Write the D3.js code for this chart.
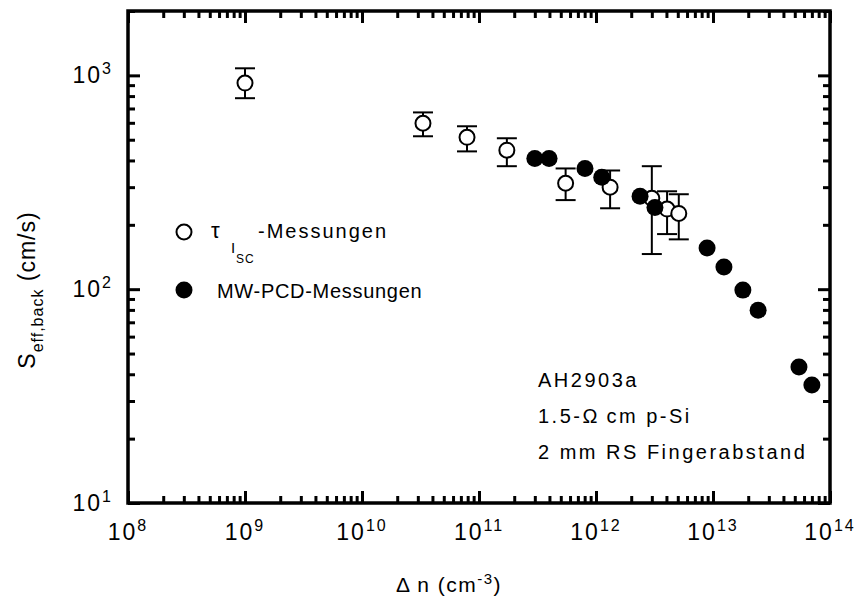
<!DOCTYPE html>
<html>
<head>
<meta charset="utf-8">
<script src="https://cdn.jsdelivr.net/npm/d3@7"></script>
<style>
  html, body { margin: 0; padding: 0; background: #fff; }
  svg { display: block; font-family: "Liberation Sans", Arial, sans-serif; }
</style>
</head>
<body>
<svg id="chart" width="861" height="605"></svg>
<script>
// τ_Isc measurements: injection level, S value, error bar bounds
const iscDn   = [1e9, 3.32e10, 7.9e10, 1.73e11, 5.5e11, 1.32e12, 3.0e12, 4.05e12, 5.1e12];
const iscS    = [920, 597, 513, 447, 313, 300, 266, 237, 226];
const iscLow  = [782, 519, 441, 376, 261, 239, 146, 181, 171];
const iscHigh = [1079, 671, 578, 508, 367, 359, 376, 287, 278];

// MW-PCD measurements
const pcdDn = [3.0e11, 3.97e11, 8.05e11, 1.12e12, 2.38e12, 3.19e12, 8.9e12, 1.24e13, 1.80e13, 2.43e13, 5.43e13, 7.0e13];
const pcdS  = [409, 409, 367, 334, 272, 241, 156, 127, 99, 79.8, 43.3, 35.6];

const xTickExp = [8, 9, 10, 11, 12, 13, 14];
const yTickExp = [1, 2, 3];

const infoLines = ["AH2903a", "1.5-\u03A9\u2009cm p-Si", "2 mm RS Fingerabstand"];

const margin = { left: 128, top: 11, right: 31, bottom: 102 };
const W = 861, H = 605;
const iw = W - margin.left - margin.right;
const ih = H - margin.top - margin.bottom;

const svg = d3.select("#chart");
const g = svg.append("g").attr("transform", `translate(${margin.left},${margin.top})`);

const x = d3.scaleLog().domain([1e8, 1e14]).range([0, iw]);
const y = d3.scaleLog().domain([10, 2000]).range([ih, 0]);

// decade (major) and in-between (minor) tick values
function decadeTicks(scale) {
  const [a, b] = scale.domain();
  const major = [], minor = [];
  for (let e = Math.floor(Math.log10(a)); e <= Math.ceil(Math.log10(b)); e++) {
    for (let m = 1; m < 10; m++) {
      const v = m * Math.pow(10, e);
      if (v < a * 0.999 || v > b * 1.001) continue;
      (m === 1 ? major : minor).push(v);
    }
  }
  return { major, minor };
}

const tickW = 3;
const xt = decadeTicks(x), yt = decadeTicks(y);

function drawAxis(axisFn, scale, vals, len, transform) {
  const a = axisFn(scale).tickValues(vals).tickSize(len).tickFormat("");
  const sel = g.append("g").attr("transform", transform).call(a);
  sel.select(".domain").remove();
  sel.selectAll(".tick line").attr("stroke", "#000").attr("stroke-width", tickW);
}

// ticks on all four sides, pointing inward
drawAxis(d3.axisTop, x, xt.major, 12, `translate(0,${ih})`);
drawAxis(d3.axisTop, x, xt.minor, 7, `translate(0,${ih})`);
drawAxis(d3.axisBottom, x, xt.major, 12, `translate(0,0)`);
drawAxis(d3.axisBottom, x, xt.minor, 7, `translate(0,0)`);
drawAxis(d3.axisRight, y, yt.major, 12, `translate(0,0)`);
drawAxis(d3.axisRight, y, yt.minor, 7, `translate(0,0)`);
drawAxis(d3.axisLeft, y, yt.major, 12, `translate(${iw},0)`);
drawAxis(d3.axisLeft, y, yt.minor, 7, `translate(${iw},0)`);

// frame
g.append("rect").attr("x", 0).attr("y", 0).attr("width", iw).attr("height", ih)
  .attr("fill", "none").attr("stroke", "#000").attr("stroke-width", 3.5);

// tick labels
const tickFont = 23;
g.selectAll("text.xtl").data(xTickExp).enter().append("text")
  .attr("class", "xtl")
  .attr("x", d => x(Math.pow(10, d)))
  .attr("y", ih + 37)
  .attr("text-anchor", "middle")
  .attr("font-size", tickFont)
  .attr("letter-spacing", 2)
  .each(function (d) {
    const t = d3.select(this);
    t.append("tspan").text("10");
    t.append("tspan").attr("dy", -9).attr("font-size", 16).text(d);
  });

g.selectAll("text.ytl").data(yTickExp).enter().append("text")
  .attr("class", "ytl")
  .attr("x", -15)
  .attr("y", d => y(Math.pow(10, d)) + 8)
  .attr("text-anchor", "end")
  .attr("font-size", tickFont)
  .attr("letter-spacing", 2)
  .each(function (d) {
    const t = d3.select(this);
    t.append("tspan").text("10");
    t.append("tspan").attr("dy", -9).attr("font-size", 16).text(d);
  });

// axis titles
const xTitle = svg.append("text")
  .attr("x", margin.left + 321).attr("y", 592)
  .attr("text-anchor", "middle").attr("font-size", 21).attr("letter-spacing", 1.5);
xTitle.append("tspan").text("\u0394\u2009n (cm");
xTitle.append("tspan").attr("dy", -8).attr("font-size", 15).text("-3");
xTitle.append("tspan").attr("dy", 8).text(")");

const yTitle = svg.append("text")
  .attr("transform", `translate(35,${margin.top + 279}) rotate(-90)`)
  .attr("text-anchor", "middle").attr("font-size", 23).attr("letter-spacing", 1);
yTitle.append("tspan").text("S");
yTitle.append("tspan").attr("dy", 8).attr("font-size", 16).text("eff,back");
yTitle.append("tspan").attr("dy", -8).text(" (cm/s)");

// τ_Isc error bars
const capHalf = 10;
const eb = g.append("g").attr("stroke", "#000").attr("stroke-width", 2);
iscDn.forEach((dn, i) => {
  const cx = x(dn);
  eb.append("line").attr("x1", cx).attr("x2", cx).attr("y1", y(iscLow[i])).attr("y2", y(iscHigh[i]));
  eb.append("line").attr("x1", cx - capHalf).attr("x2", cx + capHalf).attr("y1", y(iscLow[i])).attr("y2", y(iscLow[i]));
  eb.append("line").attr("x1", cx - capHalf).attr("x2", cx + capHalf).attr("y1", y(iscHigh[i])).attr("y2", y(iscHigh[i]));
});

// τ_Isc markers (open)
g.append("g").selectAll("circle").data(iscDn).enter().append("circle")
  .attr("cx", d => x(d)).attr("cy", (d, i) => y(iscS[i])).attr("r", 7.5)
  .attr("fill", "#fff").attr("stroke", "#000").attr("stroke-width", 2);

// MW-PCD markers (filled)
g.append("g").selectAll("circle").data(pcdDn).enter().append("circle")
  .attr("cx", d => x(d)).attr("cy", (d, i) => y(pcdS[i])).attr("r", 8.5)
  .attr("fill", "#000");

// legend
const leg = svg.append("g");
leg.append("circle").attr("cx", 184).attr("cy", 232).attr("r", 7.5)
  .attr("fill", "#fff").attr("stroke", "#000").attr("stroke-width", 2);
const l1 = leg.append("text").attr("x", 211).attr("y", 238).attr("font-size", 20);
l1.append("tspan").attr("font-size", 22).text("\u03C4");
l1.append("tspan").attr("x", 231).attr("y", 253).attr("font-size", 15).text("I");
l1.append("tspan").attr("x", 236).attr("y", 263).attr("font-size", 12).attr("letter-spacing", 1).text("SC");
l1.append("tspan").attr("x", 258).attr("y", 238).attr("letter-spacing", 2).text("-Messungen");

leg.append("circle").attr("cx", 184).attr("cy", 290).attr("r", 8.5).attr("fill", "#000");
leg.append("text").attr("x", 217).attr("y", 298).attr("font-size", 20).attr("letter-spacing", 0.7)
  .text("MW-PCD-Messungen");

// sample info
svg.append("g").selectAll("text").data(infoLines).enter().append("text")
  .attr("x", 538).attr("y", (d, i) => 387 + i * 36)
  .attr("font-size", 20).attr("letter-spacing", 2.5)
  .text(d => d);
</script>
</body>
</html>
